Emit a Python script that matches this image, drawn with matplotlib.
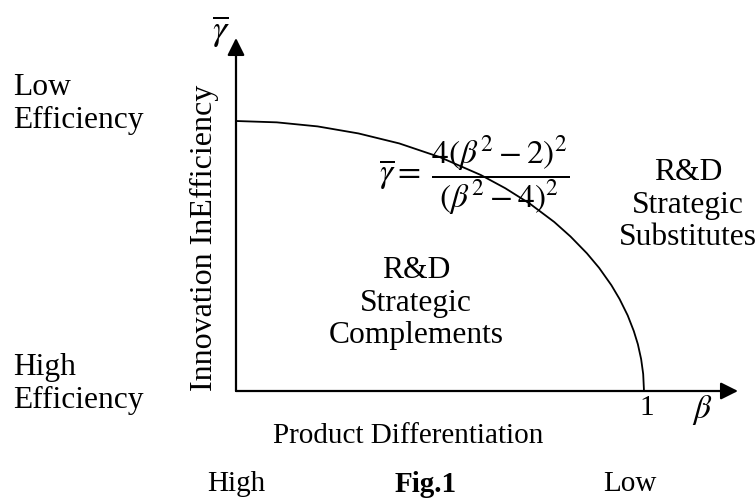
import matplotlib
matplotlib.use("Agg")
import matplotlib.pyplot as plt

# Curve (beta on x, gamma-bar on y)
beta = [0.0, 0.10, 0.20, 0.30, 0.40, 0.50, 0.60, 0.66, 0.72, 0.78, 0.82, 0.86,
        0.89, 0.92, 0.94, 0.96, 0.975, 0.985, 0.993, 0.998, 1.0]
gamma = [1.0, 0.995, 0.98, 0.954, 0.917, 0.866, 0.80, 0.751, 0.694, 0.626, 0.572, 0.510,
         0.456, 0.392, 0.341, 0.280, 0.222, 0.173, 0.118, 0.063, 0.0]

x_tick_label = "1"
y_top_label = "Low\nEfficiency"
y_bottom_label = "High\nEfficiency"
x_left_label = "High"
x_right_label = "Low"
y_axis_title = "Innovation InEfficiency"
x_axis_title = "Product Differentiation"
region_left = "R&D\nStrategic\nComplements"
region_right = "R&D\nStrategic\nSubstitutes"
caption = "Fig.1"

plt.rcParams['font.family'] = ['Liberation Serif', 'DejaVu Serif']
plt.rcParams['mathtext.fontset'] = 'stix'

W, H = 756, 501
fig = plt.figure(figsize=(W / 100, H / 100), dpi=100)
ax = fig.add_axes([0, 0, 1, 1])
ax.set_axis_off()

# pixel mapping: origin at (236, 391) px, beta=1 at 644 px, gamma=1 at 121 px
X0, Y0, SX, SY = 236.0, 391.0, 408.0, 270.0
ax.set_xlim(-X0 / SX, (W - X0) / SX)
ax.set_ylim(-(H - Y0) / SY, Y0 / SY)


def P(px, py):
    return ((px - X0) / SX, (Y0 - py) / SY)


fs = 21
fs_big = 22.7
# axes with arrows
ax.annotate('', xy=P(738, 391), xytext=P(236, 391),
            arrowprops=dict(arrowstyle='-|>', lw=1.6, color='black',
                            mutation_scale=26, shrinkA=0, shrinkB=0))
ax.annotate('', xy=P(236, 38), xytext=P(236, 391),
            arrowprops=dict(arrowstyle='-|>', lw=1.6, color='black',
                            mutation_scale=26, shrinkA=0, shrinkB=0))

ax.plot(beta, gamma, color='black', lw=1.3, solid_joinstyle='round')

ax.text(*P(221, 32), r'$\overline{\gamma}$', fontsize=26, ha='center', va='center')
ax.text(*P(647, 408), x_tick_label, fontsize=fs, ha='center', va='center')
ax.text(*P(702, 410), r'$\beta$', fontsize=24, ha='center', va='center')

ax.text(*P(13, 104), y_top_label, fontsize=fs_big, ha='left', va='center', linespacing=1.18)
ax.text(*P(13, 384), y_bottom_label, fontsize=fs_big, ha='left', va='center', linespacing=1.18)
ax.text(*P(204, 238), y_axis_title, fontsize=23, ha='center', va='center', rotation=90)

ax.text(*P(474, 176), r'$\overline{\gamma} = \;\dfrac{4(\beta^2-2)^2}{(\beta^2-4)^2}$',
        fontsize=24, ha='center', va='center')

ax.text(*P(416, 303), region_left, fontsize=fs_big, ha='center', va='center', linespacing=1.18)
ax.text(*P(688, 205), region_right, fontsize=fs_big, ha='center', va='center', linespacing=1.18)

ax.text(*P(408, 436), x_axis_title, fontsize=fs, ha='center', va='center')
ax.text(*P(236, 484), x_left_label, fontsize=fs, ha='center', va='center')
ax.text(*P(426, 484), caption, fontsize=fs, ha='center', va='center', fontweight='bold')
ax.text(*P(630, 484), x_right_label, fontsize=fs, ha='center', va='center')

fig.savefig('out.png', dpi=100)
